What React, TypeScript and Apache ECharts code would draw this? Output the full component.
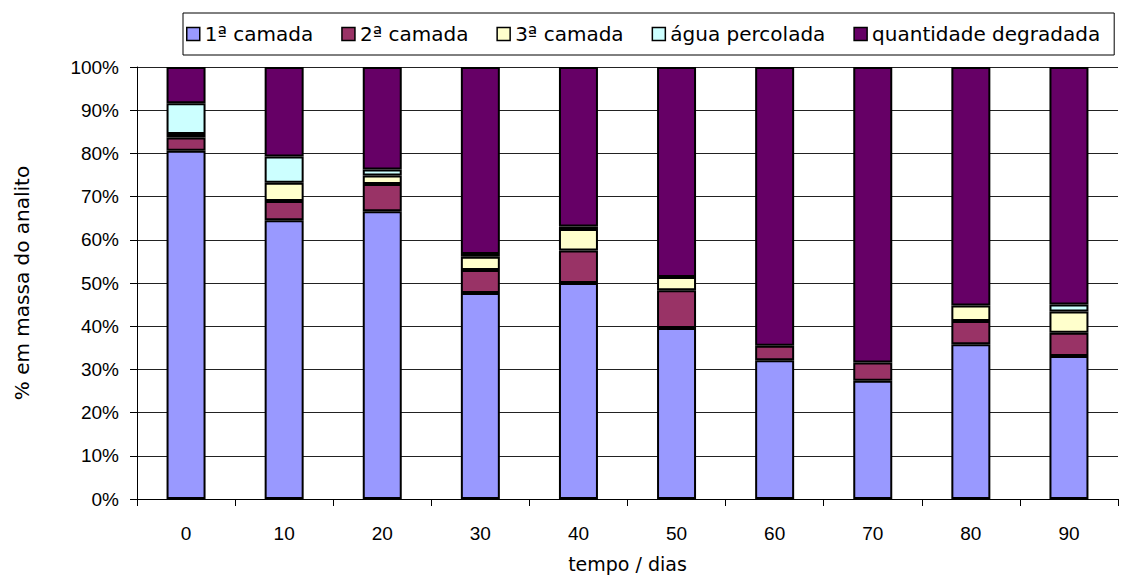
import React, { useEffect, useRef } from "react";
import * as echarts from "echarts";

const categories = ["0", "10", "20", "30", "40", "50", "60", "70", "80", "90"];
const camada1 = [80.6, 64.5, 66.6, 47.7, 50.0, 39.6, 32.1, 27.4, 35.8, 33.1];
const camada2 = [3.1, 4.5, 6.3, 5.3, 7.5, 8.7, 3.4, 4.2, 5.4, 5.4];
const camada3 = [0.8, 4.2, 2.0, 3.1, 5.0, 3.1, 0, 0, 3.6, 4.9];
const agua = [7.1, 6.1, 1.4, 0.6, 0.6, 0, 0, 0, 0, 1.6];
const degradada = [8.4, 20.7, 23.7, 43.3, 36.9, 48.6, 64.5, 68.4, 55.2, 55.0];
const yTicks = [0, 10, 20, 30, 40, 50, 60, 70, 80, 90, 100];

const seriesDefs = [
  { name: "1ª camada", data: camada1, color: "#9999FF" },
  { name: "2ª camada", data: camada2, color: "#993366" },
  { name: "3ª camada", data: camada3, color: "#FFFFCC" },
  { name: "água percolada", data: agua, color: "#CCFFFF" },
  { name: "quantidade degradada", data: degradada, color: "#660066" },
];

const titleFont = "DejaVu Sans";
const tickFont = "Liberation Sans";

export default function App() {
  const ref = useRef<HTMLDivElement>(null);
  useEffect(() => {
    if (!ref.current) return;
    const chart = echarts.init(ref.current, null, { renderer: "svg" });
    chart.setOption({
      animation: false,
      backgroundColor: "#ffffff",
      grid: {
        left: 137,
        right: 5,
        top: 67,
        bottom: 79,
        containLabel: false,
        outerBoundsMode: "none",
      },
      legend: {
        left: 183,
        top: 13,
        padding: [11, 14, 11, 3],
        itemGap: 28,
        itemWidth: 13,
        itemHeight: 13,
        icon: "rect",
        borderColor: "#000000",
        borderWidth: 1,
        itemStyle: { borderColor: "#000000", borderWidth: 1.5 },
        textStyle: { fontFamily: titleFont, fontSize: 20, color: "#000" },
        data: seriesDefs.map((s) => s.name),
      },
      xAxis: {
        type: "category",
        data: categories,
        name: "tempo / dias",
        nameLocation: "middle",
        nameGap: 55,
        nameTextStyle: { fontFamily: titleFont, fontSize: 19, color: "#000" },
        axisLine: { lineStyle: { color: "#000", width: 1 } },
        axisTick: { show: true, length: 7, lineStyle: { color: "#000" } },
        axisLabel: { fontFamily: tickFont, fontSize: 19, color: "#000", margin: 25 },
      },
      yAxis: {
        type: "value",
        min: 0,
        max: 100,
        interval: 10,
        name: "% em massa do analito",
        nameLocation: "middle",
        nameGap: 105,
        nameTextStyle: { fontFamily: titleFont, fontSize: 20, color: "#000" },
        axisLine: { show: true, lineStyle: { color: "#000", width: 1 } },
        axisTick: { show: true, length: 7, lineStyle: { color: "#000" } },
        axisLabel: {
          fontFamily: tickFont,
          fontSize: 19,
          color: "#000",
          margin: 18,
          formatter: (v: number) => (yTicks.includes(v) ? v + "%" : ""),
        },
        splitLine: { show: true, lineStyle: { color: "#222222", width: 1 } },
      },
      series: seriesDefs.map((s) => ({
        name: s.name,
        type: "bar",
        stack: "total",
        barWidth: 39,
        data: s.data.map((v) => (v === 0 ? "-" : v)),
        itemStyle: { color: s.color, borderColor: "#000000", borderWidth: 2 },
      })),
    });
    return () => chart.dispose();
  }, []);
  return (
    <div
      ref={ref}
      style={{ position: "fixed", left: 0, top: 0, width: 1123, height: 578, background: "#fff" }}
    />
  );
}
